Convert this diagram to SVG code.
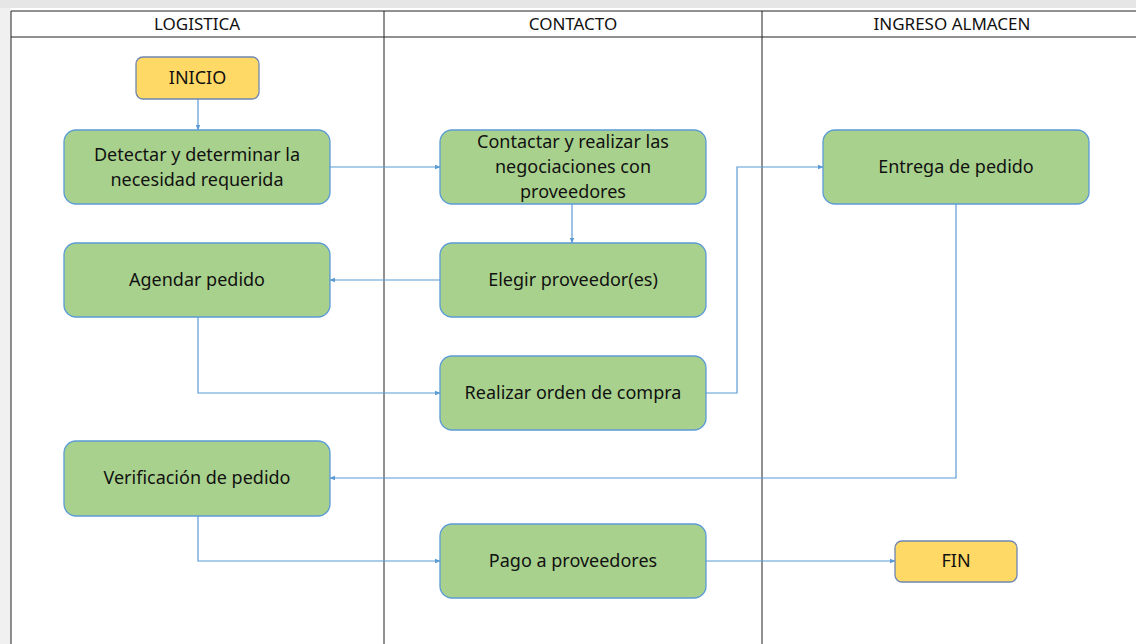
<svg xmlns="http://www.w3.org/2000/svg" width="1136" height="644" viewBox="0 0 1136 644">
<style>
.lane{fill:none;stroke:#222;stroke-width:1}
.hdr{font-family:"Noto Sans","Open Sans",sans-serif;font-size:17px;fill:#111;text-anchor:middle}
.proc rect{fill:#A9D18E;stroke:#5B9BD5;stroke-width:1.3}
.term rect{fill:#FFD966;stroke:#6F87B0;stroke-width:1.3}
.lbl{font-family:"Noto Sans","Open Sans",sans-serif;font-size:18px;fill:#111;text-anchor:middle}
.conn{fill:none;stroke:#5B9BD5;stroke-width:1.2;marker-end:url(#ah)}
</style>
<defs>
<marker id="ah" viewBox="0 0 10 10" refX="9" refY="5" markerWidth="6" markerHeight="6" orient="auto" markerUnits="userSpaceOnUse">
<path d="M0,1 L10,5 L0,9 z" fill="#5B9BD5"/>
</marker>
</defs>
<rect x="0" y="0" width="1136" height="644" fill="#fff"/>
<rect x="0" y="0" width="1136" height="8" fill="#e6e6e6"/>
<rect x="0" y="8" width="11" height="636" fill="#f0f0f0"/>
<g id="lanes">
<line class="lane" x1="11" y1="11" x2="1136" y2="11" stroke-width="1.5"/>
<line class="lane" x1="11" y1="37" x2="1136" y2="37" stroke-width="1.5"/>
<line class="lane" x1="11" y1="11" x2="11" y2="644" stroke-width="1.5"/>
<line class="lane" x1="384" y1="11" x2="384" y2="644"/>
<line class="lane" x1="762" y1="11" x2="762" y2="644"/>
<text class="hdr" x="197" y="30">LOGISTICA</text>
<text class="hdr" x="573" y="30">CONTACTO</text>
<text class="hdr" x="952" y="30">INGRESO ALMACEN</text>
</g>
<g id="connectors">
<path class="conn" d="M198,99 L198,130"/>
<path class="conn" d="M330,167 L440,167"/>
<path class="conn" d="M572,204 L572,243"/>
<path class="conn" d="M440,280 L330,280"/>
<path class="conn" d="M198,317 L198,393 L440,393"/>
<path class="conn" d="M706,393 L737,393 L737,167 L823,167"/>
<path class="conn" d="M956,204 L956,478 L330,478"/>
<path class="conn" d="M198,516 L198,561 L440,561"/>
<path class="conn" d="M706,561 L895,561"/>
</g>
<g id="inicio" class="term"><rect x="136" y="57" width="123" height="42" rx="7"/><text class="lbl" x="197.5" y="84">INICIO</text></g>
<g id="detectar" class="proc"><rect x="64" y="130" width="266" height="74" rx="12"/><text class="lbl" x="197" y="161">Detectar y determinar la</text><text class="lbl" x="197" y="186">necesidad requerida</text></g>
<g id="contactar" class="proc"><rect x="440" y="130" width="266" height="74" rx="12"/><text class="lbl" x="573" y="148">Contactar y realizar las</text><text class="lbl" x="573" y="173">negociaciones con</text><text class="lbl" x="573" y="198">proveedores</text></g>
<g id="entrega" class="proc"><rect x="823" y="130" width="266" height="74" rx="12"/><text class="lbl" x="956" y="173">Entrega de pedido</text></g>
<g id="agendar" class="proc"><rect x="64" y="243" width="266" height="74" rx="12"/><text class="lbl" x="197" y="286">Agendar pedido</text></g>
<g id="elegir" class="proc"><rect x="440" y="243" width="266" height="74" rx="12"/><text class="lbl" x="573" y="286">Elegir proveedor(es)</text></g>
<g id="realizar" class="proc"><rect x="440" y="356" width="266" height="74" rx="12"/><text class="lbl" x="573" y="399">Realizar orden de compra</text></g>
<g id="verificacion" class="proc"><rect x="64" y="441" width="266" height="75" rx="12"/><text class="lbl" x="197" y="484">Verificación de pedido</text></g>
<g id="pago" class="proc"><rect x="440" y="524" width="266" height="74" rx="12"/><text class="lbl" x="573" y="567">Pago a proveedores</text></g>
<g id="fin" class="term"><rect x="895" y="541" width="122" height="41" rx="7"/><text class="lbl" x="956" y="567">FIN</text></g>
</svg>
